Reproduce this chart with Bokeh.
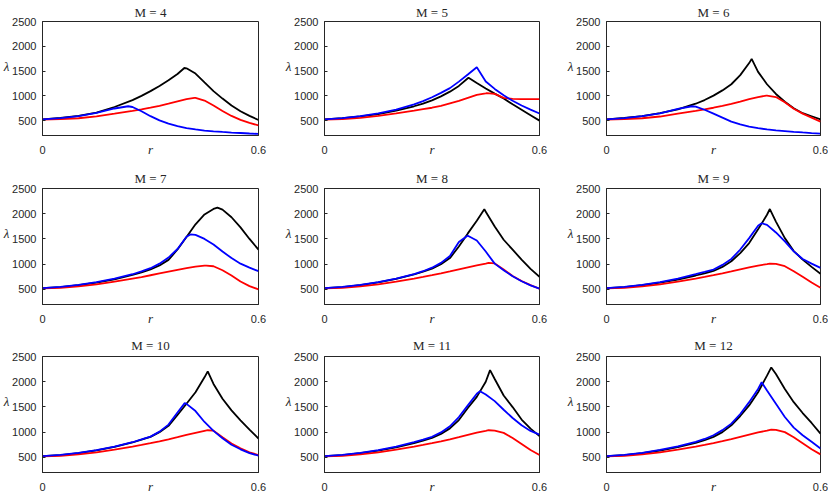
from bokeh.plotting import figure
from bokeh.layouts import column, row
from bokeh.models import Range1d, FixedTicker, LinearAxis
from bokeh.embed import file_html
from bokeh.resources import INLINE

# ---------------- data ----------------
M_VALUES = [4, 5, 6, 7, 8, 9, 10, 11, 12]
R = [0.0, 0.05, 0.1, 0.15, 0.2, 0.25, 0.275, 0.3, 0.325, 0.35, 0.375,
     0.4, 0.425, 0.45, 0.475, 0.5, 0.525, 0.55, 0.575, 0.6]

black_4 = [525, 555, 598, 662, 775, 915, 1000, 1095, 1200, 1315, 1440, 1555, 1450, 1270, 1095, 945, 805, 690, 595, 513]
red_4 = [520, 530, 548, 585, 640, 697, 728, 762, 800, 841, 888, 935, 958, 905, 805, 695, 595, 515, 455, 402]
blue_4 = [525, 550, 590, 655, 745, 775, 690, 590, 505, 440, 390, 350, 322, 300, 285, 272, 260, 250, 240, 231]

black_5 = [525, 548, 585, 632, 700, 790, 845, 910, 990, 1085, 1200, 1355, 1260, 1150, 1045, 945, 830, 720, 610, 500]
red_5 = [520, 530, 555, 595, 645, 700, 730, 760, 800, 850, 900, 960, 1020, 1050, 1040, 960, 938, 935, 934, 933]
blue_5 = [525, 552, 592, 645, 723, 828, 895, 972, 1060, 1156, 1287, 1431, 1575, 1290, 1140, 1010, 900, 805, 723, 644]

black_6 = [525, 555, 592, 650, 725, 841, 915, 1005, 1110, 1234, 1418, 1661, 1484, 1234, 1038, 880, 750, 650, 588, 526]
red_6 = [520, 530, 548, 583, 640, 695, 727, 760, 798, 840, 885, 935, 975, 1003, 975, 872, 740, 642, 562, 480]
blue_6 = [525, 550, 590, 648, 735, 782, 720, 640, 560, 480, 425, 380, 348, 322, 302, 288, 274, 261, 249, 238]

black_7 = [525, 545, 582, 635, 700, 785, 838, 895, 975, 1085, 1290, 1540, 1790, 1985, 2095, 2080, 1930, 1730, 1500, 1287]
red_7 = [520, 532, 560, 600, 655, 715, 745, 780, 815, 850, 885, 920, 950, 970, 958, 880, 775, 655, 565, 500]
blue_7 = [525, 548, 588, 645, 712, 800, 855, 920, 1010, 1130, 1300, 1545, 1580, 1500, 1390, 1250, 1120, 1010, 930, 861]

black_8 = [525, 545, 585, 640, 708, 795, 850, 912, 1000, 1120, 1350, 1610, 1860, 2040, 1746, 1484, 1287, 1090, 907, 749]
red_8 = [520, 532, 560, 600, 655, 715, 748, 782, 818, 855, 895, 935, 975, 1010, 1015, 895, 765, 665, 583, 513]
blue_8 = [525, 548, 588, 645, 713, 802, 860, 930, 1025, 1160, 1440, 1562, 1470, 1250, 1010, 880, 760, 660, 580, 513]

black_9 = [525, 545, 582, 632, 695, 775, 818, 865, 945, 1057, 1220, 1418, 1690, 1980, 1844, 1516, 1260, 1090, 946, 808]
red_9 = [520, 532, 560, 600, 655, 715, 748, 782, 818, 855, 895, 935, 972, 1002, 1005, 960, 860, 750, 635, 533]
blue_9 = [525, 548, 588, 645, 712, 800, 845, 893, 985, 1103, 1290, 1516, 1760, 1780, 1628, 1451, 1254, 1103, 1011, 926]

black_10 = [525, 545, 585, 640, 708, 795, 850, 907, 1000, 1125, 1340, 1562, 1792, 2087, 1956, 1661, 1431, 1234, 1051, 874]
red_10 = [520, 532, 560, 600, 655, 715, 748, 782, 818, 858, 900, 945, 985, 1025, 1030, 900, 775, 680, 600, 546]
blue_10 = [525, 548, 588, 645, 712, 800, 855, 912, 1010, 1150, 1390, 1560, 1418, 1202, 1025, 880, 750, 660, 585, 533]

black_11 = [525, 545, 582, 633, 698, 782, 832, 885, 965, 1075, 1240, 1480, 1700, 2000, 2054, 1726, 1497, 1250, 1070, 920]
red_11 = [520, 532, 560, 600, 655, 715, 748, 782, 818, 858, 900, 945, 990, 1025, 1030, 985, 885, 765, 645, 546]
blue_11 = [525, 548, 588, 645, 712, 800, 850, 908, 995, 1115, 1300, 1530, 1760, 1746, 1615, 1444, 1280, 1136, 1025, 952]

black_12 = [525, 545, 583, 636, 702, 785, 840, 907, 1000, 1136, 1320, 1530, 1792, 2120, 2152, 1857, 1595, 1379, 1182, 972]
red_12 = [520, 532, 560, 600, 655, 715, 748, 782, 820, 860, 905, 950, 995, 1030, 1045, 1000, 900, 780, 660, 559]
blue_12 = [525, 548, 590, 648, 718, 808, 865, 939, 1040, 1169, 1360, 1595, 1857, 1825, 1562, 1300, 1090, 939, 808, 677]

# peak of each curve (r, lambda), one entry per panel in M order
peak_black_r = [0.394, 0.402, 0.407, 0.486, 0.446, 0.458, 0.459, 0.462, 0.462]
peak_black_v = [1562, 1366, 1746, 2120, 2087, 2093, 2205, 2231, 2284]
peak_red_r = [0.422, 0.453, 0.448, 0.455, 0.458, 0.458, 0.459, 0.458, 0.462]
peak_red_v = [960, 1055, 1005, 972, 1025, 1012, 1038, 1038, 1051]
peak_blue_r = [0.238, 0.425, 0.240, 0.411, 0.399, 0.435, 0.395, 0.434, 0.435]
peak_blue_v = [790, 1578, 790, 1589, 1565, 1811, 1575, 1811, 1989]

BLACK = [black_4, black_5, black_6, black_7, black_8, black_9, black_10, black_11, black_12]
RED = [red_4, red_5, red_6, red_7, red_8, red_9, red_10, red_11, red_12]
BLUE = [blue_4, blue_5, blue_6, blue_7, blue_8, blue_9, blue_10, blue_11, blue_12]

Y_TICKS = [500, 1000, 1500, 2000, 2500]
X_TICKS = [0, 0.6]
X_MIN, X_MAX = 0.0, 0.6
Y_MIN, Y_MAX = 200, 2500
LAMBDA_AT = 1600

# ---------------- layout ----------------
FRAME_W = [216, 215, 214]
FRAME_H = [116, 116, 116]
COL_B = [(42, 24), (42, 25), (42, 8)]     # left / right borders
ROW_B = [(19, 25), (28, 25), (27, 24)]    # top / bottom borders
TITLE_STANDOFF = [4, 6, 7]
TXT = "#262626"


def curve(vals, pr, pv):
    d = dict(zip(R, vals))
    d[pr] = pv
    xs = sorted(d)
    return xs, [d[x] for x in xs]


rows = []
for i in range(3):
    figs = []
    for j in range(3):
        k = 3 * i + j
        lb, rb = COL_B[j]
        tb, bb = ROW_B[i]
        p = figure(width=lb + FRAME_W[j] + rb, height=tb + FRAME_H[i] + bb,
                   min_border_left=lb, min_border_right=rb,
                   min_border_top=tb, min_border_bottom=bb,
                   x_range=Range1d(X_MIN, X_MAX), y_range=Range1d(Y_MIN, Y_MAX),
                   title=f"M = {M_VALUES[k]}",
                   output_backend="svg", toolbar_location=None)
        p.title.align = "center"
        p.title.text_font = "Liberation Serif"
        p.title.text_font_style = "normal"
        p.title.text_font_size = "13px"
        p.title.text_color = TXT
        p.title.standoff = TITLE_STANDOFF[i]
        p.title.offset = 0

        p.xgrid.visible = False
        p.ygrid.visible = False
        p.outline_line_color = TXT
        p.outline_line_width = 1
        p.outline_line_alpha = 1
        p.background_fill_color = "white"
        p.border_fill_color = "white"
        for ax, ticks in ((p.xaxis[0], X_TICKS), (p.yaxis[0], Y_TICKS)):
            ax.ticker = FixedTicker(ticks=ticks)
            ax.minor_tick_line_color = None
            ax.major_tick_in = 3
            ax.major_tick_out = 0
            ax.major_tick_line_color = TXT
            ax.axis_line_color = TXT
            ax.major_label_text_font = "Liberation Sans"
            ax.major_label_text_font_size = "11px"
            ax.major_label_text_color = TXT
        p.xaxis.major_label_standoff = 10
        p.yaxis.major_label_standoff = 6

        # x label "r" sits on the tick-label line
        p.xaxis.axis_label = "r"
        p.xaxis.axis_label_standoff = -15
        p.xaxis.axis_label_text_font = "Liberation Serif"
        p.xaxis.axis_label_text_font_style = "italic"
        p.xaxis.axis_label_text_font_size = "13px"
        p.xaxis.axis_label_text_color = TXT

        # y label "λ" drawn horizontally, left of the tick labels
        lam = LinearAxis(ticker=FixedTicker(ticks=[LAMBDA_AT]),
                         major_label_overrides={LAMBDA_AT: "λ"},
                         axis_line_color=None, major_tick_line_color=None,
                         minor_tick_line_color=None, major_tick_in=0, major_tick_out=0,
                         major_label_standoff=0,
                         major_label_text_font="Liberation Serif",
                         major_label_text_font_style="italic",
                         major_label_text_font_size="13px",
                         major_label_text_color=TXT)
        p.add_layout(lam, "left")

        xs, ys = curve(BLACK[k], peak_black_r[k], peak_black_v[k])
        p.line(xs, ys, line_color="#000000", line_width=1.8)
        xs, ys = curve(RED[k], peak_red_r[k], peak_red_v[k])
        p.line(xs, ys, line_color="#ff0000", line_width=1.8)
        xs, ys = curve(BLUE[k], peak_blue_r[k], peak_blue_v[k])
        p.line(xs, ys, line_color="#0000ff", line_width=1.8)
        figs.append(p)
    rows.append(row(*figs, spacing=0))

layout = column(*rows, spacing=0)
open("out.html", "w").write(file_html(layout, INLINE))
